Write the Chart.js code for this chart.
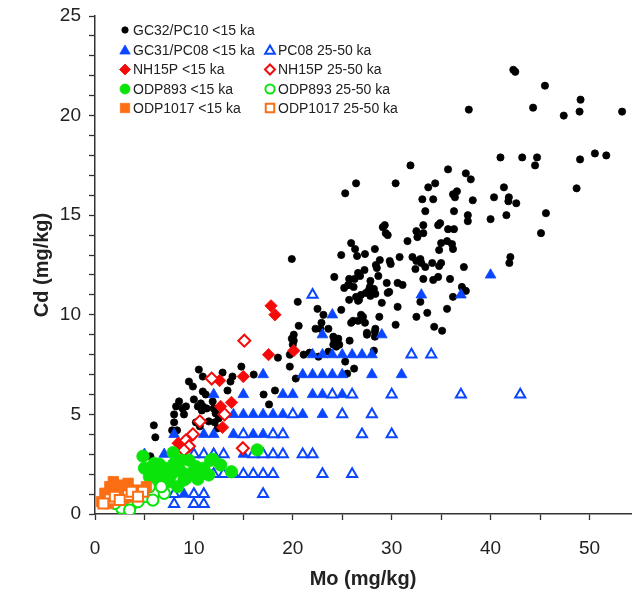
<!DOCTYPE html>
<html>
<head>
<meta charset="utf-8">
<title>Cd vs Mo</title>
<script src="https://cdn.jsdelivr.net/npm/chart.js@4/dist/chart.umd.min.js"></script>
<style>
  html, body { margin: 0; padding: 0; background: #fff; }
  #wrap { width: 640px; height: 595px; }
</style>
</head>
<body>
<div id="wrap"><canvas id="c" width="640" height="595"></canvas></div>
<script>
// Mo (mg/kg), Cd (mg/kg) pairs for each core / age group
const gc32Recent = [
  [42.3,22.3],[42.5,22.2],[45.5,21.5],[37.8,20.3],[44.3,20.4],[47.4,20.0],[49.1,20.8],[49.0,20.2],[53.3,20.2],
  [41.0,17.9],[43.2,17.9],[44.7,17.9],[44.5,17.5],[49.05,17.8],[50.55,18.1],[51.7,18.0],[48.7,16.35],
  [35.7,17.3],[37.5,17.1],[38.0,16.8],[33.7,16.4],[34.4,16.6],[33.1,15.8],[34.2,15.8],[36.2,16.05],[36.6,16.2],
  [36.4,15.9],[38.2,15.75],[41.35,16.4],[40.35,15.9],[41.85,15.9],[41.8,15.7],[42.6,15.6],[33.4,15.2],[36.3,15.2],
  [37.7,15.0],[37.7,14.7],[40.0,14.8],[41.6,15.0],[45.6,15.1],[45.1,14.1],[33.2,14.5],[33.2,14.1],[34.9,14.6],
  [34.7,14.5],[35.7,14.3],[36.3,14.3],[35.0,13.6],[35.6,13.7],[36.1,13.55],[34.8,13.25],[36.2,13.3],[42.0,12.9],
  [41.9,12.6],[32.9,12.8],[34.1,12.6],[33.4,12.4],[34.8,12.45],[35.0,12.6],[37.3,12.4],[33.2,11.8],[34.2,11.75],
  [34.7,11.9],[35.9,11.8],[37.1,11.4],[37.5,11.2],[36.2,10.9],
  [31.9,17.5],[26.4,16.6],[30.4,16.6],[25.3,16.1],
  [29.3,14.5],[29.1,14.4],[29.6,14.0],[29.4,14.1],[32.5,14.2],[32.6,13.9],[31.6,13.7],
  [25.9,13.6],[26.3,13.3],[28.3,13.3],[27.3,13.05],[26.5,12.95],[24.9,13.0],[30.8,12.9],[32.1,12.9],[32.5,12.7],
  [33.0,12.6],[32.4,12.3],[28.8,12.75],[28.4,12.5],[28.5,12.35],[29.8,12.7],[29.9,12.55],
  [27.25,12.25],[26.6,12.1],[26.8,11.95],[26.25,11.8],[25.7,11.8],[25.7,11.5],[25.2,11.35],[25.6,11.5],
  [28.65,11.95],[24.2,11.9],[27.85,11.7],[27.8,11.4],[27.7,11.25],[28.2,11.3],[27.4,11.1],[26.9,11.0],[26.7,10.75],
  [26.15,11.4],[26.4,10.9],[28.35,11.05],[27.85,10.95],[29.5,11.6],[29.75,11.15],[29.6,11.1],[30.6,11.6],[31.1,11.5],
  [25.7,10.75],[26.6,10.7],[29.0,10.6],[30.6,10.4],[24.9,10.25],
  [26.9,10.0],[27.1,9.9],[26.6,9.7],[26.1,9.7],[25.9,9.6],[27.3,9.6],[28.75,9.9],[28.35,9.3],[27.5,9.1],[30.4,9.5],
  [32.5,9.9],[33.6,10.1],[34.3,9.4],[35.1,9.2],[35.6,10.3],[32.9,10.65],
  [19.9,12.8],[20.5,10.65],[22.5,10.3],[23.1,10.0],[22.9,9.6],[22.8,9.3],[22.3,9.3],[23.6,9.3],[20.6,9.45],
  [20.1,9.0],[19.9,8.8],[24.1,8.9],[24.6,8.8],
  [20.0,8.5],[20.1,8.7],[24.2,8.7],[24.1,8.5],[24.4,8.4],[24.7,8.5],[25.75,8.7],[27.5,9.0],[28.3,8.9],[28.3,9.15],
  [18.5,7.85],[19.7,8.0],[19.7,7.4],[21.1,8.0],[21.7,8.1],[22.6,7.9],[23.6,8.15],[25.3,7.65],[28.2,8.2],[20.3,6.8],
  [26.2,7.3],[25.5,7.05],[17.05,6.0],[18.2,6.2],[17.6,5.5],
  [14.8,7.4],[16.05,7.0],[13.9,6.9],[13.7,6.65],[12.9,7.1],[10.5,7.25],[10.9,6.9],[9.5,6.65],[9.9,6.4],[13.4,6.2],
  [10.9,6.15],[11.2,6.0],[10.0,5.75],[10.4,5.4],[10.9,5.4],[10.7,5.55],[11.9,5.65],[12.0,5.3],[12.2,5.05],[9.2,5.4],
  [8.5,5.65],[9.0,5.0],[8.85,5.3],[8.2,5.4],[8.0,5.0],[8.0,4.6],[7.8,4.2],[8.3,4.2],[5.95,4.45],[6.1,3.85],
  [10.2,4.6],[10.6,4.4],[11.5,4.65],[12.1,4.6],[12.4,4.3],[13.0,5.1],[12.5,4.8],[5.6,2.9],[10.8,5.2],[11.3,5.3]
];

const gc31Recent = [
  [40,12],[33,11],[37,11],[24,10],[23,9],[29,9],
  [22,8],[23,8],[24,8],[25,8],[26,8],[27,8],[28,8],
  [17,7],[21,7],[22,7],[23,7],[24,7],[25,7],[28,7],[31,7],
  [12,6],[15,6],[19,6],[20,6],[22,6],[23,6],[25,6],
  [14,5],[15,5],[16,5],[17,5],[18,5],[19,5],[21,5],[23,5],
  [8,4],[11,4],[12,4],[14,4],[16,4],[17,4],
  [5,3],[7,3],[15,3],[9,1]
];

const pc08Older = [
  [22,11],[32,8],[34,8],
  [24,6],[26,6],[30,6],[37,6],[43,6],
  [20,5],[25,5],[28,5],
  [15,4],[18,4],[19,4],[27,4],[30,4],
  [10,3],[11,3],[12,3],[13,3],[16,3],[17,3],[18,3],[19,3],[21,3],[22,3],
  [11,2],[12,2],[13,2],[14,2],[15,2],[16,2],[17,2],[18,2],[23,2],[26,2],
  [8,1],[10,1],[11,1],[17,1],
  [8,0.5],[10,0.5],[11,0.5]
];

const nh15pRecent = [
  [17.8,10.45],[18.2,10.0],[17.55,8.0],[20.1,8.2],[15.0,6.9],[12.6,6.7],
  [13.8,5.6],[12.7,5.4],[12.9,4.35],[8.4,3.55]
];

const nh15pOlder = [
  [15.1,8.7],[11.8,6.8],[13.1,5.0],[10.6,4.65],[9.9,4.0],[9.2,3.7],[9.5,3.4],[9.0,3.2],[14.95,3.3]
];

const odp893Recent = [
  [4.85,2.9],[7.9,3.08],[5.0,2.3],[5.85,2.4],[6.5,2.5],[8.75,2.7],[9.5,2.7],[11.9,2.75],[11.5,1.96],[10.4,1.75],
  [13.8,2.12],[8.35,1.37],[6.7,2.04],[7.7,1.96],[8.7,2.13],[9.7,2.04],[5.5,1.87],[6.5,1.71],[7.5,1.62],[9.0,1.71],
  [10.0,2.13],[11.0,2.3],[6.0,2.13],[16.4,3.22],[10.2,2.38],[11.0,2.04],[9.2,1.79],[7.2,2.29],[6.0,2.54],[8.0,2.54],
  [12.7,2.46],[11.7,2.7]
];

const odp893Older = [
  [3.2,0.45],[3.85,0.53],[5.0,0.87],[6.0,1.04],[7.0,1.04],[5.85,0.7],[4.35,0.62],[2.7,0.29],[2.0,0.53],
  [3.35,0.87],[6.7,1.37],[4.7,1.12],[5.5,1.37],[3.5,0.2]
];

const odp1017Recent = [
  [0.67,0.62],[1.5,1.37],[2.35,1.45],[3.35,1.54],[5.2,1.37],[1.0,1.04],[2.5,1.12],[4.2,1.2],[1.35,0.53],
  [2.85,0.79],[4.0,0.87],[1.85,1.62],[3.0,1.29]
];

const odp1017Older = [
  [1.5,0.74],[3.35,0.95],[4.85,1.12],[2.0,0.87],[3.7,1.12],[0.85,0.53],[2.5,0.7],[4.35,0.87]
];

const xTickStep = 5;   // minor every 5, labelled every 10
const yTickStep = 1;   // minor every 1, labelled every 5

const BLACK = '#000000';
const BLUE = '#0a46ff';
const RED = '#f50a0a';
const GREEN = '#0be40b';
const ORANGE = '#fb6e14';
const FONT = "'Liberation Sans', Arial, Helvetica, sans-serif";

const toPoints = arr => arr.map(p => ({ x: p[0], y: p[1] }));

// series definitions: label, data, marker style (legend column/row)
const series = [
  { label: 'GC32/PC10 <15 ka',    data: gc32Recent,    style: 'circle',   radius: 3.6, color: BLACK,  open: false, col: 0, row: 0, legR: 3.2 },
  { label: 'GC31/PC08 <15 ka',    data: gc31Recent,    style: 'triangle', radius: 6.2, color: BLUE,   open: false, col: 0, row: 1, legR: 6.0 },
  { label: 'PC08 25-50 ka',       data: pc08Older,     style: 'triangle', radius: 5.8, color: BLUE,   open: true,  col: 1, row: 1, legR: 5.6 },
  { label: 'NH15P <15 ka',        data: nh15pRecent,   style: 'rectRot',  radius: 6.2, color: RED,    open: false, col: 0, row: 2, legR: 5.5 },
  { label: 'NH15P 25-50 ka',      data: nh15pOlder,    style: 'rectRot',  radius: 6.0, color: RED,    open: true,  col: 1, row: 2, legR: 5.0 },
  { label: 'ODP893 <15 ka',       data: odp893Recent,  style: 'circle',   radius: 6.2, color: GREEN,  open: false, col: 0, row: 3, legR: 5.0 },
  { label: 'ODP893 25-50 ka',     data: odp893Older,   style: 'circle',   radius: 5.6, color: GREEN,  open: true,  col: 1, row: 3, legR: 4.6 },
  { label: 'ODP1017 <15 ka',      data: odp1017Recent, style: 'rect',     radius: 7.4, color: ORANGE, open: false, col: 0, row: 4, legR: 6.6 },
  { label: 'ODP1017 25-50 ka',    data: odp1017Older,  style: 'rect',     radius: 7.0, color: ORANGE, open: true,  col: 1, row: 4, legR: 6.0 }
];

const datasets = series.map((s, i) => ({
  label: s.label,
  data: toPoints(s.data),
  pointStyle: s.style,
  pointRadius: s.radius,
  pointHoverRadius: s.radius,
  backgroundColor: s.open ? '#ffffff' : s.color,
  borderColor: s.color,
  borderWidth: s.open ? 2 : 0.8,
  order: series.length - i,   // first series sits at the bottom of the stack
  showLine: false
}));

// Two-column key in the upper-left corner of the plot
function drawMarker(ctx, s, x, y) {
  const r = s.legR;
  ctx.save();
  ctx.beginPath();
  if (s.style === 'circle') {
    ctx.arc(x, y, r, 0, Math.PI * 2);
  } else if (s.style === 'triangle') {
    ctx.moveTo(x, y - r);
    ctx.lineTo(x + Math.sin(2 * Math.PI / 3) * r, y - Math.cos(2 * Math.PI / 3) * r);
    ctx.lineTo(x + Math.sin(4 * Math.PI / 3) * r, y - Math.cos(4 * Math.PI / 3) * r);
    ctx.closePath();
  } else if (s.style === 'rectRot') {
    ctx.moveTo(x - r, y); ctx.lineTo(x, y - r); ctx.lineTo(x + r, y); ctx.lineTo(x, y + r);
    ctx.closePath();
  } else {
    const h = Math.SQRT1_2 * r;
    ctx.rect(x - h, y - h, 2 * h, 2 * h);
  }
  ctx.fillStyle = s.open ? '#ffffff' : s.color;
  ctx.fill();
  ctx.lineWidth = s.open ? 2 : 0.8;
  ctx.strokeStyle = s.color;
  ctx.stroke();
  ctx.restore();
}

const keyPlugin = {
  id: 'key',
  afterDraw(chart) {
    const ctx = chart.ctx;
    const colMarkerX = [125, 270];
    const colTextX = [133, 278];
    const rowY = [30, 50, 69.5, 89, 108];
    ctx.save();
    ctx.font = '14px ' + FONT;
    ctx.textBaseline = 'middle';
    ctx.textAlign = 'left';
    series.forEach(s => {
      const y = rowY[s.row];
      drawMarker(ctx, s, colMarkerX[s.col], y + (s.style === 'triangle' ? 1 : 0));
      ctx.fillStyle = '#222222';
      ctx.fillText(s.label, colTextX[s.col], y + 1);
    });
    ctx.restore();
  }
};

new Chart(document.getElementById('c'), {
  type: 'scatter',
  data: { datasets },
  options: {
    responsive: false,
    animation: false,
    events: [],
    layout: { padding: { top: 16, right: 3, left: 0, bottom: 0 } },
    plugins: { legend: { display: false }, tooltip: { enabled: false } },
    scales: {
      x: {
        type: 'linear', position: 'bottom', min: 0, max: 54.2,
        afterFit(scale) { scale.height = 81; scale.paddingRight = 0; scale.paddingLeft = 0; },
        ticks: {
          stepSize: xTickStep, includeBounds: false, autoSkip: false, maxRotation: 0,
          padding: 17, color: '#222222', font: { family: FONT, size: 19 },
          callback: v => (v % 10 === 0 ? String(v) : '')
        },
        grid: { drawOnChartArea: false, drawTicks: true, tickLength: 6, tickColor: '#333333', tickWidth: 1.3 },
        border: { display: true, color: '#333333', width: 1.5 },
        title: {
          display: true, text: 'Mo (mg/kg)', color: '#222222',
          font: { family: FONT, size: 20, weight: 'bold' }, padding: { top: 0, bottom: 4 }
        }
      },
      y: {
        type: 'linear', min: 0, max: 25,
        afterFit(scale) { scale.width = 95; scale.paddingTop = 0; scale.paddingBottom = 0; },
        ticks: {
          stepSize: yTickStep, autoSkip: false, padding: 8, color: '#222222',
          font: { family: FONT, size: 19 },
          callback: v => (v % 5 === 0 ? String(v) : '')
        },
        grid: { drawOnChartArea: false, drawTicks: true, tickLength: 6, tickColor: '#333333', tickWidth: 1.3 },
        border: { display: true, color: '#333333', width: 1.5 },
        title: {
          display: true, text: 'Cd (mg/kg)', color: '#222222',
          font: { family: FONT, size: 20, weight: 'bold' }, padding: { top: 30, bottom: 0 }
        }
      }
    }
  },
  plugins: [keyPlugin]
});
</script>
</body>
</html>
